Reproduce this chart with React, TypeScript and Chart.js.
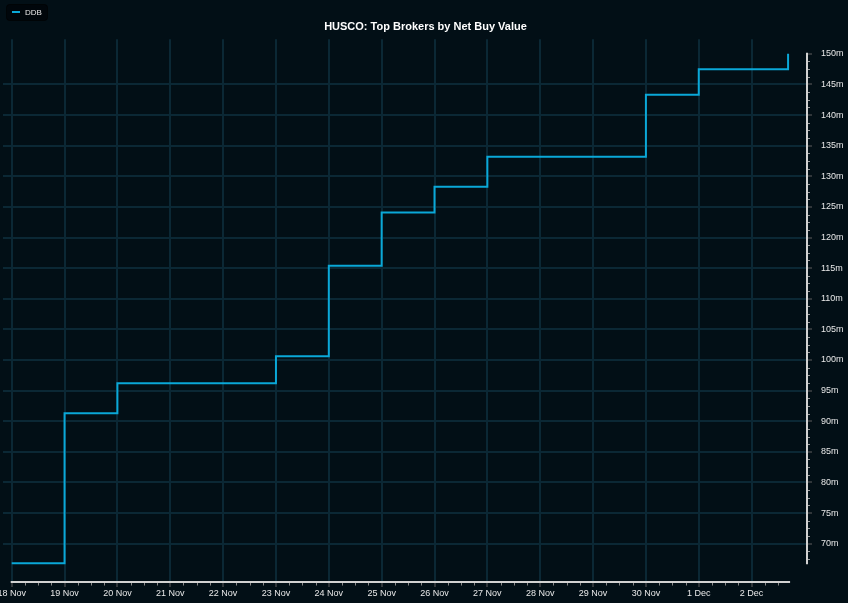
import React, { useEffect, useRef } from 'react';
import { Chart, registerables } from 'chart.js';

Chart.register(...registerables);

const chartTitle = 'HUSCO: Top Brokers by Net Buy Value';
const seriesName = 'DDB';
// x axis: day index from 18 Nov
const dayLabels = [
  '18 Nov', '19 Nov', '20 Nov', '21 Nov', '22 Nov', '23 Nov', '24 Nov', '25 Nov',
  '26 Nov', '27 Nov', '28 Nov', '29 Nov', '30 Nov', '1 Dec', '2 Dec',
];
// cumulative net buy value (millions) at each step
const stepDays = [0, 1, 2, 5, 6, 7, 8, 9, 12, 13, 14.69];
const netBuyM = [66.8, 91.3, 96.2, 100.6, 115.4, 124.1, 128.3, 133.2, 143.3, 147.5, 150];
const yTickValues = [70, 75, 80, 85, 90, 95, 100, 105, 110, 115, 120, 125, 130, 135, 140, 145, 150];

const BG = '#020f16';
const GRID = '#0b2835';
const LINE = '#0aa8d8';
const TEXT = '#e8e8e8';
const AXIS = '#d2d2d2';
const FONT = 'Arial, "Liberation Sans", Helvetica, sans-serif';

export default function App() {
  const ref = useRef<HTMLCanvasElement | null>(null);

  useEffect(() => {
    if (!ref.current) return;
    const points = stepDays.map((d, i) => ({ x: d, y: netBuyM[i] }));
    const xMaxData = stepDays[stepDays.length - 1];
    const yMinData = netBuyM[0];
    const yMaxData = netBuyM[netBuyM.length - 1];

    const bgPlugin = {
      id: 'bg',
      beforeDraw(chart: any) {
        const c = chart.ctx;
        c.save();
        c.fillStyle = BG;
        c.fillRect(0, 0, chart.width, chart.height);
        c.restore();
      },
    };

    const axesPlugin = {
      id: 'axesDeco',
      afterDraw(chart: any) {
        const c = chart.ctx;
        const xs = chart.scales.x;
        const ys = chart.scales.y;
        const area = chart.chartArea;
        c.save();
        // minor ticks x
        c.strokeStyle = '#8a8a8a';
        c.lineWidth = 1;
        for (let v = 0; v <= xMaxData + 1e-6; v += 0.25) {
          if (Math.abs(v - Math.round(v)) < 1e-6) continue;
          const px = Math.round(xs.getPixelForValue(v)) + 0.5;
          c.beginPath();
          c.moveTo(px, area.bottom);
          c.lineTo(px, area.bottom + 3.5);
          c.stroke();
        }
        // minor ticks y
        c.strokeStyle = '#9a9a9a';
        for (let v = 150; v >= yMinData - 1e-6; v -= 1.25) {
          if (Math.abs(v / 5 - Math.round(v / 5)) < 1e-6) continue;
          const py = Math.round(ys.getPixelForValue(v)) + 0.5;
          c.beginPath();
          c.moveTo(area.right, py);
          c.lineTo(area.right + 3, py);
          c.stroke();
        }
        // axis lines
        c.strokeStyle = AXIS;
        c.lineWidth = 2;
        c.beginPath();
        c.moveTo(xs.getPixelForValue(0) - 1, area.bottom);
        c.lineTo(xs.getPixelForValue(xMaxData) + 2, area.bottom);
        c.stroke();
        c.beginPath();
        c.moveTo(area.right, ys.getPixelForValue(yMaxData) - 1);
        c.lineTo(area.right, ys.getPixelForValue(yMinData) + 1);
        c.stroke();

        // legend
        c.fillStyle = 'rgba(0,6,10,0.9)';
        c.strokeStyle = 'rgba(0,0,0,0.6)';
        c.lineWidth = 1;
        const lx = 6.5, ly = 4.5, lw = 41, lh = 16, r = 3;
        c.beginPath();
        c.moveTo(lx + r, ly);
        c.lineTo(lx + lw - r, ly);
        c.quadraticCurveTo(lx + lw, ly, lx + lw, ly + r);
        c.lineTo(lx + lw, ly + lh - r);
        c.quadraticCurveTo(lx + lw, ly + lh, lx + lw - r, ly + lh);
        c.lineTo(lx + r, ly + lh);
        c.quadraticCurveTo(lx, ly + lh, lx, ly + lh - r);
        c.lineTo(lx, ly + r);
        c.quadraticCurveTo(lx, ly, lx + r, ly);
        c.closePath();
        c.fill();
        c.stroke();
        c.strokeStyle = LINE;
        c.lineWidth = 2;
        c.beginPath();
        c.moveTo(12, 12);
        c.lineTo(20, 12);
        c.stroke();
        c.fillStyle = TEXT;
        c.font = '8px ' + FONT;
        c.textBaseline = 'middle';
        c.textAlign = 'left';
        c.fillText(seriesName, 25, 12.5);
        c.restore();
      },
    };

    const chart = new Chart(ref.current, {
      type: 'line',
      data: {
        datasets: [
          {
            label: seriesName,
            data: points,
            borderColor: LINE,
            backgroundColor: LINE,
            borderWidth: 2,
            pointRadius: 0,
            stepped: 'before',
            fill: false,
          },
        ],
      },
      options: {
        animation: false,
        responsive: false,
        maintainAspectRatio: false,
        layout: { padding: { left: 3, right: 0, top: 0, bottom: 0 } },
        plugins: {
          legend: { display: false },
          tooltip: { enabled: false },
          title: {
            display: true,
            text: chartTitle,
            color: '#ffffff',
            font: { family: FONT, size: 11, weight: 'bold', lineHeight: 1.2 },
            padding: { top: 20, bottom: 6 },
          },
        },
        scales: {
          x: {
            type: 'linear',
            min: -0.1646,
            max: 15.048,
            afterBuildTicks: (s: any) => {
              s.ticks = dayLabels.map((_, i) => ({ value: i }));
            },
            afterFit: (s: any) => {
              s.height = 21;
              s.paddingLeft = 0;
              s.paddingRight = 0;
            },
            border: { display: false },
            grid: {
              color: GRID,
              lineWidth: 2,
              drawTicks: true,
              tickLength: 5,
              tickColor: '#5e5e5e',
              tickWidth: 1,
            },
            ticks: {
              autoSkip: false,
              maxRotation: 0,
              minRotation: 0,
              padding: 1,
              color: TEXT,
              font: { family: FONT, size: 9 },
              callback: (v: any) => dayLabels[Math.round(Number(v))] ?? '',
            },
          },
          y: {
            type: 'linear',
            position: 'right',
            min: 63.74,
            max: 152.39,
            afterBuildTicks: (s: any) => {
              s.ticks = yTickValues.map((v) => ({ value: v }));
            },
            afterFit: (s: any) => {
              s.width = 41;
              s.paddingTop = 0;
              s.paddingBottom = 0;
            },
            border: { display: false },
            grid: {
              color: (ctx: any) => (ctx.tick && ctx.tick.value === 150 ? 'rgba(0,0,0,0)' : GRID),
              lineWidth: 2,
              drawTicks: true,
              tickLength: 5,
              tickColor: '#5e5e5e',
              tickWidth: 1,
            },
            ticks: {
              padding: 9,
              color: TEXT,
              font: { family: FONT, size: 9 },
              callback: (v: any) => v + 'm',
            },
          },
        },
      },
      plugins: [bgPlugin, axesPlugin],
    } as any);

    return () => chart.destroy();
  }, []);

  return (
    <div style={{ position: 'absolute', left: 0, top: 0, width: 848, height: 603, background: BG }}>
      <canvas ref={ref} width={848} height={603} style={{ display: 'block' }} />
    </div>
  );
}
